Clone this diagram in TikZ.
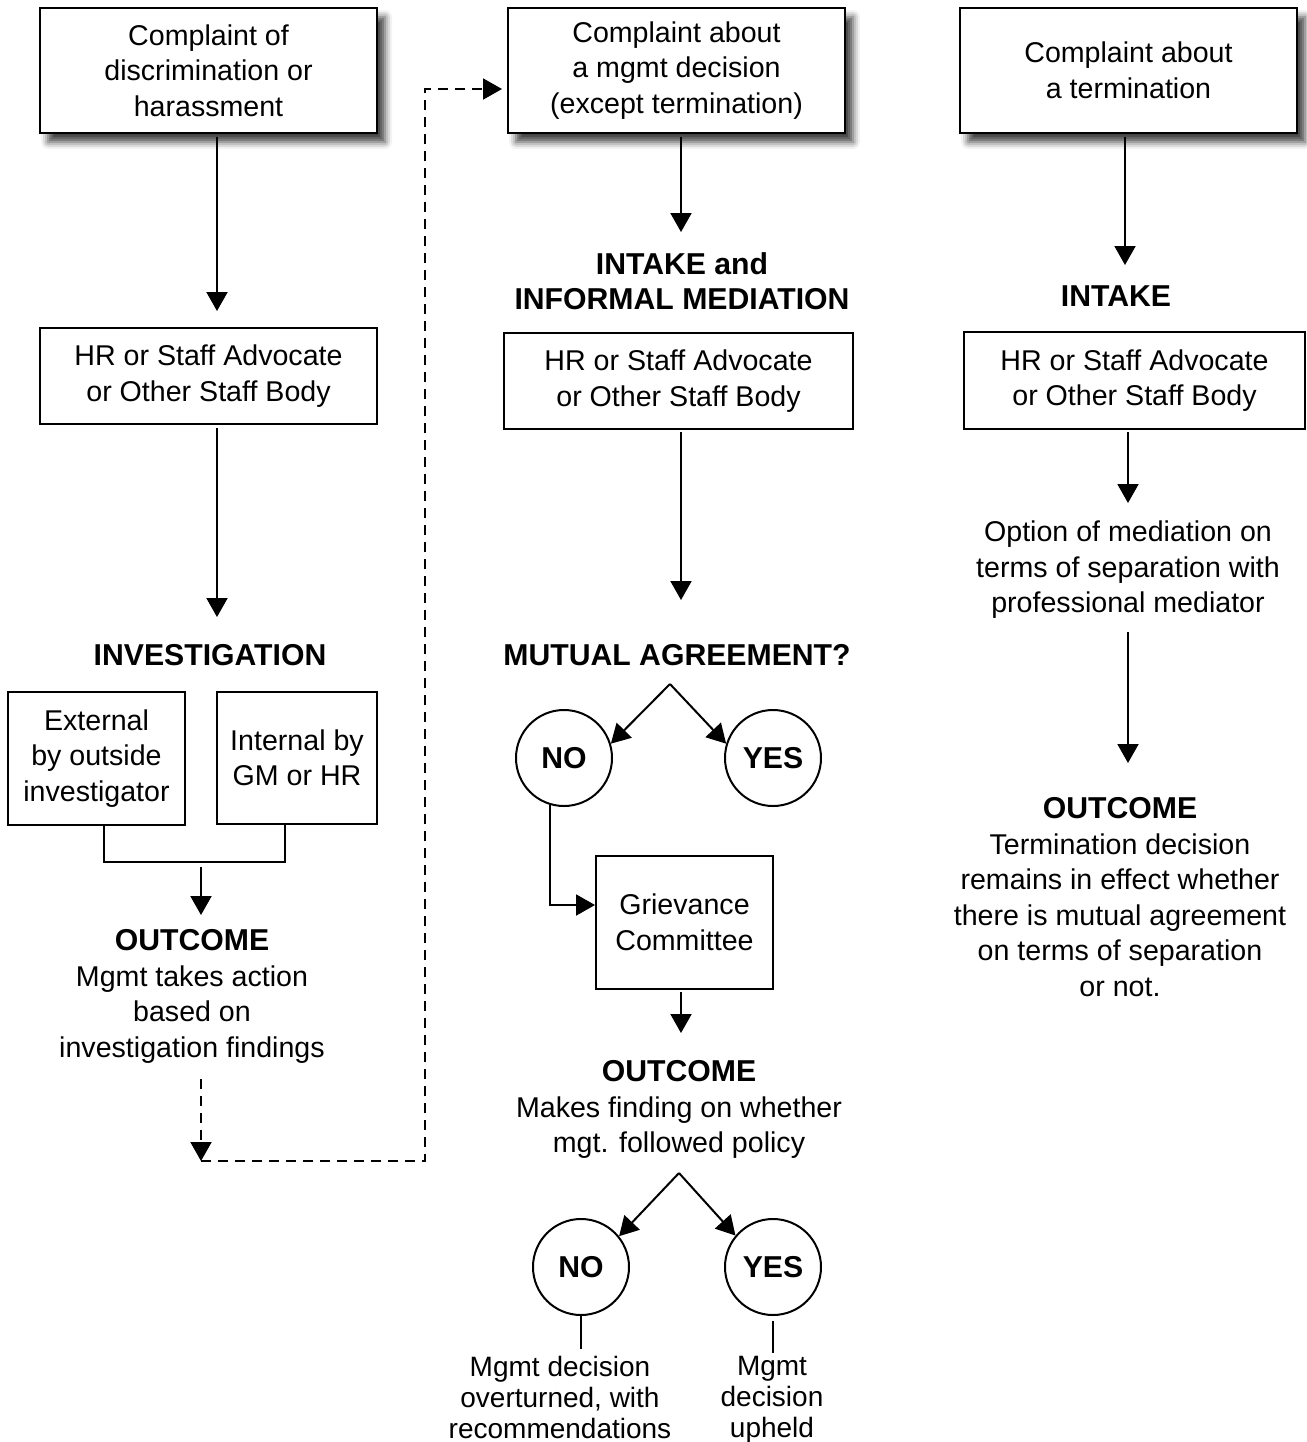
\documentclass[tikz,border=0pt]{standalone}
\usepackage{fontspec}
\setmainfont{Liberation Sans}
\usetikzlibrary{arrows.meta,shadows.blur}
\newcommand{\hdtxt}[1]{{\fontsize{15.1pt}{17.75pt}\selectfont\bfseries #1}}
\begin{document}
\begin{tikzpicture}[x=0.5pt,y=-0.5pt,
  every node/.style={font=\fontsize{14.3pt}{17.75pt}\selectfont, align=center, inner sep=0pt},
  box/.style={draw, line width=1pt, fill=white},
  topbox/.style={box, blur shadow={shadow xshift=4pt, shadow yshift=-4.5pt, shadow blur radius=3.5pt, shadow opacity=75}},
  circ/.style={draw, circle, line width=1pt, minimum size=48pt, font=\fontsize{15.1pt}{17pt}\selectfont\bfseries},
  lbl/.style={anchor=north},
  small/.style={anchor=north, font=\fontsize{14pt}{15.5pt}\selectfont},
  arr/.style={line width=1pt, -{Triangle[length=9.5pt,width=10.5pt]}},
  ln/.style={line width=1pt},
  dsh/.style={dash pattern=on 5pt off 3.5pt}
]
\useasboundingbox (0,0) rectangle (1307,1442);

% ---------- left column ----------
\node[topbox, minimum width=168.5pt, minimum height=62.5pt] (b1) at (208.5,70.5) {Complaint of\\discrimination or\\harassment};
\node[box, minimum width=168.5pt, minimum height=48pt] (b2) at (208.5,376) {HR or Staff Advocate\\or Other Staff Body};
\node[lbl] (inv) at (210,644) {\hdtxt{INVESTIGATION}};
\node[box, minimum width=88.5pt, minimum height=66.5pt] (ext) at (96.5,758.5) {External\\by outside\\investigator};
\node[box, minimum width=80pt, minimum height=66pt] (int) at (297,758) {Internal by\\GM or HR};
\node[lbl] (out1) at (192,929) {\hdtxt{OUTCOME}\\Mgmt takes action\\based on\\investigation findings};

% ---------- middle column ----------
\node[topbox, minimum width=168.5pt, minimum height=62.5pt] (m1) at (676.5,70.5) {Complaint about\\a mgmt decision\\(except termination)};
\node[lbl] (hdr) at (682,252) {\hdtxt{INTAKE and}\\\hdtxt{INFORMAL MEDIATION}};
\node[box, minimum width=174.5pt, minimum height=48pt] (m2) at (678.5,381) {HR or Staff Advocate\\or Other Staff Body};
\node[lbl] (mut) at (677,644) {\hdtxt{MUTUAL AGREEMENT?}};
\node[circ] (no1) at (564,758) {NO};
\node[circ] (yes1) at (773,758) {YES};
\node[box, minimum width=88.5pt, minimum height=66.5pt] (gc) at (684.5,922.5) {Grievance\\Committee};
\node[lbl] (out2) at (679,1060) {\hdtxt{OUTCOME}\\Makes finding on whether\\mgt. followed policy};
\node[circ] (no2) at (581,1267) {NO};
\node[circ] (yes2) at (773,1267) {YES};
\node[small] (res1) at (560,1355.5) {Mgmt decision\\overturned, with\\recommendations};
\node[small] (res2) at (772,1355.5) {Mgmt\\decision\\upheld};

% ---------- right column ----------
\node[topbox, minimum width=168.5pt, minimum height=62.5pt] (r1) at (1128.5,70.5) {Complaint about\\a termination};
\node[lbl] (intk) at (1116,285) {\hdtxt{INTAKE}};
\node[box, minimum width=170.5pt, minimum height=48.5pt] (r2) at (1134.5,380.5) {HR or Staff Advocate\\or Other Staff Body};
\node[lbl] (opt) at (1128,520.5) {Option of mediation on\\terms of separation with\\professional mediator};
\node[lbl] (out3) at (1120,797) {\hdtxt{OUTCOME}\\Termination decision\\remains in effect whether\\there is mutual agreement\\on terms of separation\\or not.};

% ---------- helper coordinates ----------
\coordinate (xL) at (217,0);
\coordinate (xEx) at (104,0);
\coordinate (xIn) at (285,0);
\coordinate (brk) at (201,862);
\coordinate (xO) at (201,0);
\coordinate (dc) at (201,1161);
\coordinate (dtop) at (425,89);
\coordinate (xM) at (681,0);
\coordinate (ap1) at (670,684);
\coordinate (ap2) at (679,1173);
\coordinate (xR1) at (1125,0);
\coordinate (xR2) at (1128,0);

% ---------- left connectors ----------
\draw[arr, shorten <=1.5pt, shorten >=8pt] (b1.south -| xL) -- (b2.north -| xL);
\draw[arr, shorten <=1.5pt, shorten >=13.5pt] (b2.south -| xL) -- (inv.north -| xL);
\draw[ln] (ext.south -| xEx) |- (brk) -| (int.south -| xIn);
\draw[arr, shorten <=2.5pt, shorten >=7pt] (brk) -- (out1.north -| brk);
\draw[arr, dsh, shorten <=8pt] (out1.south -| xO) -- (dc);
\draw[arr, dsh, shorten >=2.5pt] (dc) -| (dtop) -- (m1.west |- dtop);

% ---------- middle connectors ----------
\draw[arr, shorten <=1.5pt, shorten >=10pt] (m1.south -| xM) -- (hdr.north -| xM);
\draw[arr, shorten <=1pt, shorten >=22pt] (m2.south -| xM) -- (mut.north -| xM);
\draw[arr] (ap1) -- (no1.17);
\draw[arr] (ap1) -- (yes1.163);
\draw[arr] (no1.-107) |- ([yshift=8.75pt]gc.west);
\draw[arr, shorten <=1pt, shorten >=13.5pt] (gc.south -| xM) -- (out2.north -| xM);
\draw[arr] (ap2) -- (no2.39);
\draw[arr] (ap2) -- (yes2.140);
\draw[ln, shorten >=3.25pt] (no2.south) -- (no2.south |- res1.north);
\draw[ln, shorten <=2.5pt, shorten >=1.25pt] (yes2.south) -- (yes2.south |- res2.north);

% ---------- right connectors ----------
\draw[arr, shorten <=1.5pt, shorten >=10pt] (r1.south -| xR1) -- (intk.north -| xR1);
\draw[arr, shorten <=1pt, shorten >=8.75pt] (r2.south -| xR2) -- (opt.north -| xR2);
\draw[arr, shorten <=6.5pt, shorten >=17pt] (opt.south -| xR2) -- (out3.north -| xR2);
\end{tikzpicture}
\end{document}
